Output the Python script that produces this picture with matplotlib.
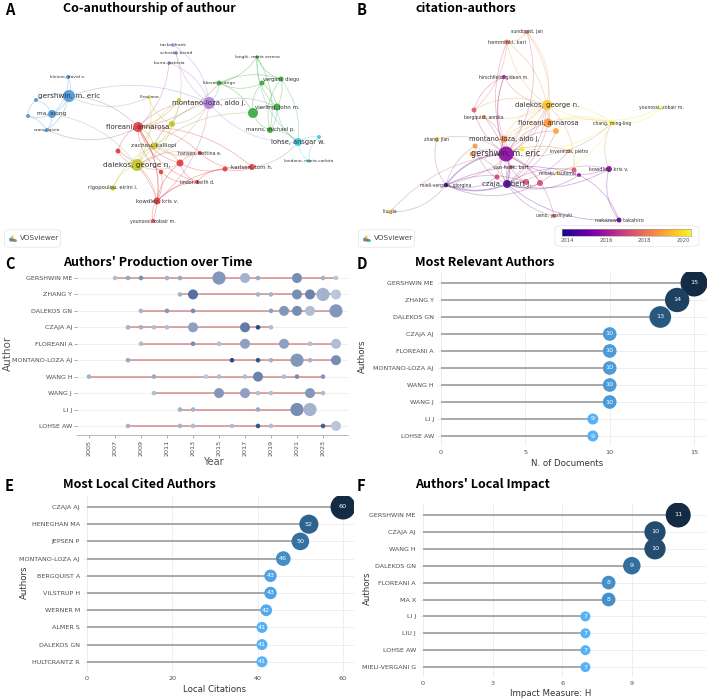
import matplotlib
matplotlib.use('Agg')
import matplotlib.pyplot as plt
import numpy as np
from matplotlib.patches import FancyArrowPatch, FancyBboxPatch
from matplotlib.colors import LinearSegmentedColormap, to_rgb

W, H = 709, 699
TITLE_FONT = ['Noto Sans CJK SC', 'DejaVu Sans']
TICK = '#4d4d4d'
GRIDC = '#ebebeb'

# ---- A: co-authorship network (VOSviewer layout) ----
coauth_names = ['gershwin, m. eric', 'ma, xiong', 'kleiner, david e.', 'wang, qixia', '', '',
                'tacke, frank', 'schnabl, bernd', 'burra, patrizia', 'montano-loza, aldo j.',
                'longhi, maria serena', 'liberal, rodrigo', 'vergani, diego', '', 'vierling, john m.', '',
                'manns, michael p.', 'lohse, ansgar w.', '', 'londono, maria-carlota',
                'lleo, ana', '', '', 'floreani, annarosa', 'zachou, kalliopi', 'dalekos, george n.',
                'rigopoulou, eirini i.', 'kowdley, kris v.', 'younossi, zobair m.', '',
                'hansen, bettina e.', '', '', 'lindor, keith d.', 'karlsen, tom h.', '']
coauth_x = [69, 52, 68, 47, 36, 28, 173, 176, 169, 209, 257, 219, 281, 262, 277, 253, 270, 298, 319, 309,
            149, 179, 172, 138, 154, 137, 113, 157, 153, 118, 200, 180, 161, 197, 252, 225]
coauth_y = [96, 114, 77, 130, 100, 116, 45, 53, 63, 103, 57, 83, 79, 83, 107, 113, 130, 142, 137, 161,
            97, 100, 124, 127, 146, 165, 188, 201, 221, 151, 153, 163, 172, 182, 167, 169]
coauth_size = [12, 8, 4, 4, 4, 4, 3.5, 3.5, 3.5, 12, 3.5, 5, 5, 5, 7, 10, 6, 8, 4, 3.5,
               3.5, 4, 6, 10, 7, 12, 5, 7, 4, 5, 4, 7, 4.5, 4, 6, 5]
coauth_cluster = [2, 2, 2, 2, 2, 2, 4, 4, 4, 4, 1, 1, 1, 1, 1, 1, 1, 5, 5, 5,
                  3, 3, 3, 0, 3, 3, 3, 0, 0, 0, 0, 0, 0, 0, 0, 0]
coauth_font = [5.2, 4.2, 3.2, 3.2, 0, 0, 3.2, 3.2, 3.2, 5.0, 3.2, 3.2, 3.6, 0, 4.0, 0, 3.8, 4.8, 0, 3.2,
               3.2, 0, 0, 5.0, 4.2, 5.3, 3.8, 4.0, 3.4, 0, 3.4, 0, 0, 3.4, 4.0, 0]
coauth_edges = [(0, 1), (0, 2), (0, 3), (0, 4), (1, 3), (1, 4), (1, 5), (4, 5), (5, 3), (1, 2), (0, 23),
                (0, 20), (0, 9), (3, 23), (1, 25),
                (9, 6), (9, 7), (9, 8), (8, 23), (9, 23), (9, 25), (9, 17), (9, 14), (9, 11), (9, 27),
                (9, 24), (7, 22),
                (10, 12), (10, 11), (10, 14), (10, 16), (10, 17), (11, 12), (11, 13), (11, 15), (12, 13),
                (12, 14), (12, 16), (12, 17), (13, 15), (13, 14), (14, 15), (14, 16), (15, 16), (16, 17),
                (14, 17), (11, 23), (15, 25),
                (17, 18), (17, 19), (17, 34), (18, 19),
                (25, 24), (25, 26), (24, 22), (25, 22), (25, 21), (20, 22), (20, 25), (24, 23), (21, 23),
                (24, 21), (26, 24), (22, 9),
                (23, 27), (23, 29), (23, 30), (23, 31), (23, 34), (23, 32), (31, 30), (31, 33), (27, 31),
                (27, 28), (27, 33), (32, 33), (32, 27), (30, 34), (34, 35), (35, 33), (25, 30), (25, 31),
                (25, 27), (24, 30), (24, 31), (29, 25), (29, 27), (28, 23), (35, 31), (23, 33), (27, 34)]
cluster_colors = ['#e23a3f', '#3aa83c', '#4a96dc', '#c4c42c', '#ac7ee0', '#3cc8e2']

# ---- B: citation network, coloured by average publication year ----
cite_names = ['sundquist, jan', 'hemminki, kari', 'hirschfield, gideon m.', 'dalekos, george n.',
              'younossi, zobair m.', '', 'bergquist, annika', 'floreani, annarosa', '', 'chang, ming-ling',
              'zhang, jian', 'montano-loza, aldo j.', '', '', 'invernizzi, pietro', 'gershwin, m. eric', '',
              'van hoek, bart', 'misaki, tsutomu', '', '', 'kowdley, kris v.', '', '', '',
              'czaja, albert j.', 'mieli-vergani, giorgina', 'liu, jia', 'ueno, yoshiyuki',
              'nakazawa, takahiro']
cite_x = [527, 507, 504, 547, 661, 474, 484, 548, 556, 612, 437, 504, 475, 522, 569, 506, 472, 511, 557,
          574, 579, 609, 497, 526, 540, 507, 446, 390, 554, 619]
cite_y = [32, 42, 77, 105, 108, 110, 117, 123, 131, 123, 139, 139, 146, 149, 151, 154, 154, 167, 173,
          170, 175, 169, 177, 182, 183, 184, 185, 212, 216, 220]
cite_size = [4, 5, 4, 10, 3.5, 5, 4, 9, 6, 5, 4, 7, 5, 5, 4, 15, 5, 4, 3.5, 5, 4, 6, 5, 6, 6, 8, 4.5,
             4, 4, 5]
cite_year = [2018.3, 2018.2, 2016.0, 2019.6, 2020.3, 2017.5, 2018.5, 2018.8, 2019.0, 2020.4, 2019.3,
             2018.6, 2018.8, 2020.2, 2018.9, 2015.6, 2019.2, 2017.6, 2020.0, 2017.3, 2016.0, 2015.7,
             2017.0, 2017.4, 2017.2, 2014.6, 2014.2, 2019.0, 2017.6, 2014.8]
cite_font = [3.3, 3.6, 3.3, 5.0, 3.3, 0, 3.3, 4.8, 0, 3.3, 3.3, 4.8, 0, 0, 3.3, 5.8, 0, 3.5, 3.3, 0, 0,
             3.7, 0, 0, 0, 5.0, 3.3, 3.3, 3.3, 3.6]
cite_edges = [(15, 25), (15, 26), (25, 26), (26, 22), (26, 23), (26, 24), (26, 20), (26, 3), (26, 12),
              (15, 3), (15, 7), (15, 11), (15, 1), (15, 0), (15, 2), (15, 6), (15, 5), (15, 9), (15, 14),
              (15, 21), (15, 24), (15, 23), (15, 13), (15, 16), (15, 12), (15, 10), (3, 9), (3, 4), (3, 1),
              (3, 0), (3, 6), (3, 5), (3, 7), (3, 11), (3, 25), (3, 13), (7, 9), (7, 1), (7, 25), (7, 11),
              (11, 2), (11, 25), (11, 9), (9, 4), (9, 13), (9, 21), (9, 18), (21, 29), (21, 25), (21, 24),
              (20, 29), (25, 24), (25, 23), (25, 20), (25, 19), (27, 26), (27, 15), (1, 0), (1, 5), (2, 5),
              (6, 25), (12, 25), (16, 25), (10, 26), (28, 25), (28, 15), (14, 25), (8, 15), (8, 25),
              (17, 25), (22, 3), (19, 3), (29, 25), (2, 3), (0, 7)]
year_ticks = [2014, 2016, 2018, 2020]

# ---- C: authors' production over time ----
prod_authors = ['GERSHWIN ME', 'ZHANG Y', 'DALEKOS GN', 'CZAJA AJ', 'FLOREANI A', 'MONTANO-LOZA AJ',
                'WANG H', 'WANG J', 'LI J', 'LOHSE AW']
prod_years = [[2007, 2008, 2009, 2011, 2012, 2015, 2017, 2018, 2021, 2023, 2024],
              [2012, 2013, 2018, 2019, 2021, 2022, 2023, 2024],
              [2009, 2011, 2013, 2019, 2020, 2021, 2022, 2024],
              [2008, 2009, 2010, 2011, 2013, 2017, 2018, 2019],
              [2009, 2013, 2015, 2017, 2020, 2022, 2024],
              [2008, 2016, 2018, 2019, 2021, 2022, 2024],
              [2005, 2010, 2014, 2015, 2017, 2018, 2020, 2021, 2023],
              [2010, 2015, 2017, 2018, 2019, 2022, 2023],
              [2012, 2013, 2018, 2021, 2022],
              [2008, 2012, 2013, 2016, 2018, 2019, 2023, 2024]]
prod_freq = [[1, 1, 1, 1, 1, 3, 2, 1, 2, 1, 1],
             [1, 2, 1, 1, 2, 2, 3, 2],
             [1, 1, 1, 1, 2, 2, 2, 3],
             [1, 1, 1, 1, 2, 2, 1, 1],
             [1, 1, 1, 2, 2, 1, 2],
             [1, 1, 1, 1, 3, 1, 2],
             [1, 1, 1, 1, 1, 2, 1, 1, 1],
             [1, 2, 2, 1, 1, 2, 1],
             [1, 1, 1, 3, 3],
             [1, 1, 1, 1, 1, 1, 1, 2]]
prod_tc = [[0.35, 0.45, 0.6, 0.4, 0.45, 0.55, 0.4, 0.45, 0.6, 0.4, 0.3],
           [0.4, 0.75, 0.4, 0.4, 0.6, 0.65, 0.4, 0.3],
           [0.4, 0.55, 0.6, 0.5, 0.55, 0.6, 0.35, 0.55],
           [0.4, 0.4, 0.35, 0.35, 0.5, 0.7, 0.95, 0.35],
           [0.35, 0.6, 0.35, 0.5, 0.5, 0.35, 0.35],
           [0.45, 0.95, 0.9, 0.4, 0.55, 0.4, 0.6],
           [0.4, 0.45, 0.3, 0.35, 0.35, 0.65, 0.35, 0.6, 0.55],
           [0.35, 0.55, 0.5, 0.35, 0.35, 0.55, 0.35],
           [0.4, 0.4, 0.45, 0.6, 0.4],
           [0.4, 0.4, 0.35, 0.35, 0.9, 0.35, 0.85, 0.3]]
prod_xticks = list(range(2005, 2024, 2))

# ---- D, E, F: lollipop rankings ----
rel_authors = ['GERSHWIN ME', 'ZHANG Y', 'DALEKOS GN', 'CZAJA AJ', 'FLOREANI A', 'MONTANO-LOZA AJ',
               'WANG H', 'WANG J', 'LI J', 'LOHSE AW']
rel_docs = [15, 14, 13, 10, 10, 10, 10, 10, 9, 9]
cited_authors = ['CZAJA AJ', 'HENEGHAN MA', 'JEPSEN P', 'MONTANO-LOZA AJ', 'BERGQUIST A', 'VILSTRUP H',
                 'WERNER M', 'ALMER S', 'DALEKOS GN', 'HULTCRANTZ R']
local_cit = [60, 52, 50, 46, 43, 43, 42, 41, 41, 41]
impact_authors = ['GERSHWIN ME', 'CZAJA AJ', 'WANG H', 'DALEKOS GN', 'FLOREANI A', 'MA X', 'LI J', 'LIU J',
                  'LOHSE AW', 'MIELI-VERGANI G']
h_index = [11, 10, 10, 9, 8, 8, 7, 7, 7, 7]

fig = plt.figure(figsize=(W / 100, H / 100), dpi=100)
fig.patch.set_facecolor('white')


def px_axes(x0, y0, x1, y1):
    return fig.add_axes([x0 / W, 1 - y1 / H, (x1 - x0) / W, (y1 - y0) / H])


def ftext(x, y, s, **kw):
    fig.text(x / W, 1 - y / H, s, **kw)


def d2s(d):
    # marker diameter in px -> scatter size in pt^2
    return (np.asarray(d) * 0.72) ** 2


def panel_title(x, y, letter, title):
    ftext(x, y, letter, fontsize=10.5, fontweight='bold', family=TITLE_FONT, va='top', ha='left')
    ftext(x + 58, y, title, fontsize=9.0, fontweight='bold', family=TITLE_FONT, va='top', ha='left')


def vos_logo(x, y):
    bg = px_axes(x, y, x + 61, y + 21)
    bg.set_axis_off()
    bg.add_patch(FancyBboxPatch((0.04, 0.08), 0.92, 0.84, boxstyle='round,pad=0,rounding_size=0.12',
                                transform=bg.transAxes, fc='white', ec='#e8e8e8', lw=0.6))
    bg.scatter([0.15, 0.19, 0.17, 0.22], [0.45, 0.42, 0.58, 0.4], s=[9, 5, 4, 4],
               c=['#3b9ad9', '#e84a3c', '#ffd400', '#2fbf71'], transform=bg.transAxes, lw=0)
    bg.text(0.3, 0.5, 'VOSviewer', transform=bg.transAxes, fontsize=5.2, color='#444444',
            va='center', ha='left')


def network(ax, xs, ys, sizes, colors, names, fonts, edges, edge_alpha, edge_lw):
    for k, (a, b) in enumerate(edges):
        ca, cb = np.array(to_rgb(colors[a])), np.array(to_rgb(colors[b]))
        rad = 0.25 if k % 2 else -0.2
        lw = edge_lw(a, b)
        ax.add_patch(FancyArrowPatch((xs[a], ys[a]), (xs[b], ys[b]), arrowstyle='-',
                                     connectionstyle=f'arc3,rad={rad}', shrinkA=0, shrinkB=0,
                                     color=(ca + cb) / 2, alpha=edge_alpha, lw=lw, zorder=1))
    ax.scatter(xs, ys, s=d2s(sizes), c=colors, alpha=0.9, lw=0, zorder=3)
    for x, y, n, f in zip(xs, ys, names, fonts):
        if n:
            ax.text(x, y, n, fontsize=f, color='#333333', ha='center', va='center', zorder=4)


# ---- A ----
panel_title(5, 2, 'A', 'Co-anuthourship of authour')
axA = px_axes(0, 22, 354, 226)
axA.set_xlim(0, 354)
axA.set_ylim(226, 22)
axA.set_axis_off()
colA = [cluster_colors[c] for c in coauth_cluster]
network(axA, coauth_x, coauth_y, coauth_size, colA, coauth_names, coauth_font, coauth_edges,
        0.38, lambda a, b: 0.55)
vos_logo(2, 228)

# ---- B ----
panel_title(357, 2, 'B', 'citation-authors')
axB = px_axes(354, 22, 709, 226)
axB.set_xlim(354, 709)
axB.set_ylim(226, 22)
axB.set_axis_off()
cmap_year = plt.get_cmap('plasma')
ymin, ymax = 2013.7, 2020.4
colB = [cmap_year((y - ymin) / (ymax - ymin)) for y in cite_year]
heavy = {15, 25, 26}
network(axB, cite_x, cite_y, cite_size, colB, cite_names, cite_font, cite_edges, 0.32,
        lambda a, b: 1.1 if (a in heavy and b in heavy) else 0.6)
vos_logo(356, 228)

# colour bar for the year overlay
cbox = px_axes(552, 224, 702, 248)
cbox.set_axis_off()
cbox.add_patch(FancyBboxPatch((0.02, 0.06), 0.96, 0.88, boxstyle='round,pad=0,rounding_size=0.1',
                              transform=cbox.transAxes, fc='white', ec='#e8e8e8', lw=0.6))
cbar = px_axes(562, 229, 691, 236)
cbar.imshow(np.linspace(ymin, ymax, 256)[None, :], aspect='auto', cmap=cmap_year,
            extent=(ymin, ymax, 0, 1), vmin=ymin, vmax=ymax)
cbar.set_yticks([])
cbar.set_xticks(year_ticks)
cbar.tick_params(axis='x', length=0, labelsize=3.8, colors='#555555', pad=1.5)
for s in cbar.spines.values():
    s.set_color('#999999')
    s.set_linewidth(0.4)

# ---- C ----
panel_title(5, 256, 'C', "Authors' Production over Time")
x0, x1, y0, y1 = 77, 348, 270, 435
axC = px_axes(x0, y0, x1, y1)
yr0_px, yr_step = 89, 13.0
axC.set_xlim(2005 + (x0 - yr0_px) / yr_step, 2005 + (x1 - yr0_px) / yr_step)
row0, rstep = 278, 16.44
axC.set_ylim((y1 - row0) / rstep, (y0 - row0) / rstep)
for i, (yrs, fr, tc) in enumerate(zip(prod_years, prod_freq, prod_tc)):
    axC.plot([min(yrs), max(yrs)], [i, i], color='#c0504d', alpha=0.55, lw=1.3, zorder=2)
    base = np.array(to_rgb('#1c4282'))
    cols = [tuple(1 - t * (1 - base)) for t in tc]
    diam = [{1: 4.6, 2: 10.0, 3: 13.2}[f] for f in fr]
    axC.scatter(yrs, [i] * len(yrs), s=d2s(diam), c=cols, lw=0, zorder=3)
axC.set_yticks(range(len(prod_authors)))
axC.set_yticklabels(prod_authors)
axC.set_xticks(prod_xticks)
axC.set_xticklabels([str(t) for t in prod_xticks], rotation=90)
axC.tick_params(axis='both', labelsize=4.6, colors='#888888', labelcolor=TICK, length=2, width=0.5,
                pad=1.5)
axC.grid(axis='y', color='#f0f0f0', lw=0.8, zorder=0)
for s in ['top', 'right', 'left']:
    axC.spines[s].set_visible(False)
axC.spines['bottom'].set_color('#b0b0b0')
axC.spines['bottom'].set_linewidth(0.6)
ftext(213, 462, 'Year', fontsize=7, color='#555555', ha='center', va='center')
ftext(8, 353, 'Author', fontsize=7.5, color='#555555', ha='center', va='center', rotation=90)

# ---- lollipops ----
cmap_gg = LinearSegmentedColormap.from_list('gg', ['#56B1F7', '#132B43'])


def lollipop(box, zero_px, unit_px, row0, rstep, names, vals, ticks, dmin, dmax):
    x0, y0, x1, y1 = box
    ax = px_axes(x0, y0, x1, y1)
    ax.set_xlim((x0 - zero_px) / unit_px, (x1 - zero_px) / unit_px)
    ax.set_ylim((y1 - row0) / rstep, (y0 - row0) / rstep)
    vmin, vmax = min(vals), max(vals)
    frac = [(v - vmin) / (vmax - vmin) for v in vals]
    rows = np.arange(len(vals))
    ax.hlines(rows, 0, vals, color='#a3a3a3', lw=1.3, zorder=2)
    ax.scatter(vals, rows, s=d2s([dmin + f * (dmax - dmin) for f in frac]),
               c=[cmap_gg(f) for f in frac], lw=0, zorder=3)
    for r, v in zip(rows, vals):
        ax.text(v, r, str(v), color='white', fontsize=4.6, ha='center', va='center', zorder=4)
    ax.set_yticks(rows)
    ax.set_yticklabels(names)
    ax.set_xticks(ticks)
    ax.tick_params(axis='both', length=0, labelsize=4.6, labelcolor=TICK, pad=3)
    ax.grid(color=GRIDC, lw=0.6, zorder=0)
    for s in ax.spines.values():
        s.set_visible(False)
    return ax


panel_title(357, 256, 'D', 'Most Relevant Authors')
lollipop((438, 272, 707, 446), 441, 16.87, 283, 17.0, rel_authors, rel_docs, [0, 5, 10, 15], 11, 27)
ftext(567, 463, 'N. of Documents', fontsize=6.2, color='#333333', ha='center', va='center')
ftext(362, 356, 'Authors', fontsize=6.2, color='#333333', ha='center', va='center', rotation=90)

panel_title(5, 478, 'E', 'Most Local Cited Authors')
lollipop((84, 496, 354, 672), 87, 4.267, 507, 17.2, cited_authors, local_cit, [0, 20, 40, 60], 11, 25)
ftext(215, 689, 'Local Citations', fontsize=6.2, color='#333333', ha='center', va='center')
ftext(24, 582, 'Authors', fontsize=6.2, color='#333333', ha='center', va='center', rotation=90)

panel_title(357, 478, 'F', "Authors' Local Impact")
lollipop((420, 503, 706, 677), 423, 23.2, 515, 16.9, impact_authors, h_index, [0, 3, 6, 9], 10, 25)
ftext(551, 693, 'Impact Measure: H', fontsize=6.2, color='#333333', ha='center', va='center')
ftext(367, 588, 'Authors', fontsize=6.2, color='#333333', ha='center', va='center', rotation=90)

fig.savefig('out.png', dpi=100, facecolor='white')
